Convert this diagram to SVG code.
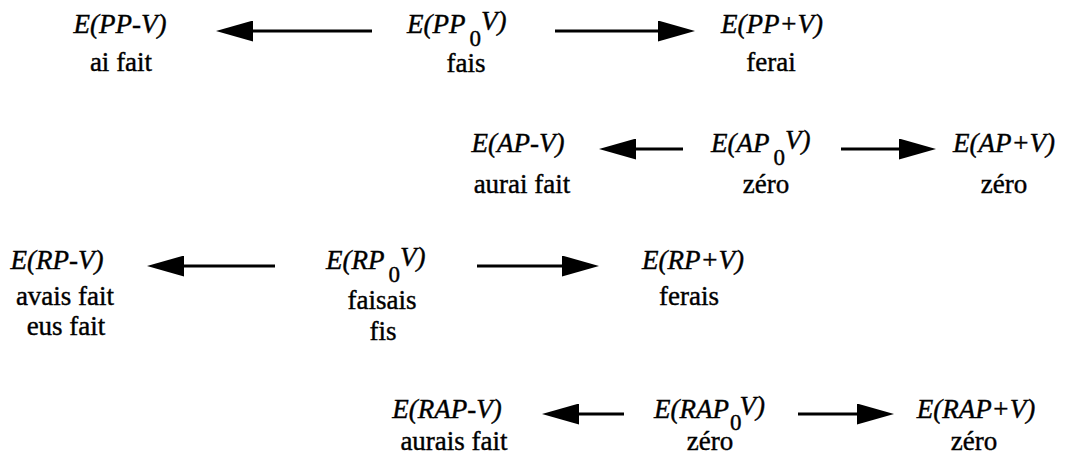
<svg xmlns="http://www.w3.org/2000/svg" width="1065" height="455" viewBox="0 0 1065 455">
  <style>
    text { font-size: 27px; fill: #000; stroke: #000; stroke-width: 0.4px; }
    .c { text-anchor: middle; }
    .term { font-style: italic; }
    .sub { font-style: normal; font-size: 23px; }
    .arrow { stroke: #000; stroke-width: 3.2; fill: none; }
  </style>
  <defs>
    <marker id="head" viewBox="0 0 37 21" refX="0" refY="10.5" markerWidth="37" markerHeight="21" markerUnits="userSpaceOnUse" orient="auto">
      <polygon points="0,0 37,10.5 0,21" fill="#000"/>
    </marker>
  </defs>
  <rect width="1065" height="455" fill="#fff"/>

  <g id="connectors">
    <line class="arrow" x1="372" y1="31" x2="253" y2="31" marker-end="url(#head)"/>
    <line class="arrow" x1="555" y1="31" x2="658" y2="31" marker-end="url(#head)"/>
    <line class="arrow" x1="683" y1="149" x2="636" y2="149" marker-end="url(#head)"/>
    <line class="arrow" x1="841" y1="149" x2="899" y2="149" marker-end="url(#head)"/>
    <line class="arrow" x1="275" y1="266" x2="184" y2="266" marker-end="url(#head)"/>
    <line class="arrow" x1="477" y1="266" x2="562" y2="266" marker-end="url(#head)"/>
    <line class="arrow" x1="624" y1="414" x2="579" y2="414" marker-end="url(#head)"/>
    <line class="arrow" x1="798" y1="414" x2="857" y2="414" marker-end="url(#head)"/>
  </g>

  <g id="labels" font-family="Liberation Serif, Times New Roman, serif">
    <!-- PP row -->
    <g id="pp-minus">
      <text class="term c" x="120" y="33">E(PP-V)</text>
      <text class="c" x="121" y="71">ai fait</text>
    </g>
    <g id="pp-zero">
      <text class="term" x="407" y="33">E(PP<tspan class="sub" dx="4" dy="13">0</tspan><tspan dy="-16">V)</tspan></text>
      <text class="c" x="466" y="72">fais</text>
    </g>
    <g id="pp-plus">
      <text class="term c" x="772" y="33">E(PP+V)</text>
      <text class="c" x="771" y="71">ferai</text>
    </g>

    <!-- AP row -->
    <g id="ap-minus">
      <text class="term c" x="518" y="152">E(AP-V)</text>
      <text class="c" x="522" y="193">aurai fait</text>
    </g>
    <g id="ap-zero">
      <text class="term" x="711" y="152">E(AP<tspan class="sub" dx="4" dy="13">0</tspan><tspan dy="-16">V)</tspan></text>
      <text class="c" x="766" y="193">zéro</text>
    </g>
    <g id="ap-plus">
      <text class="term c" x="1004" y="152">E(AP+V)</text>
      <text class="c" x="1004" y="193">zéro</text>
    </g>

    <!-- RP row -->
    <g id="rp-minus">
      <text class="term c" x="57" y="269">E(RP-V)</text>
      <text class="c" x="65" y="305">avais fait</text>
      <text class="c" x="66" y="335">eus fait</text>
    </g>
    <g id="rp-zero">
      <text class="term" x="326" y="269">E(RP<tspan class="sub" dx="4" dy="13">0</tspan><tspan dy="-16">V)</tspan></text>
      <text class="c" x="382" y="309">faisais</text>
      <text class="c" x="383" y="340">fis</text>
    </g>
    <g id="rp-plus">
      <text class="term c" x="693" y="269">E(RP+V)</text>
      <text class="c" x="689" y="305">ferais</text>
    </g>

    <!-- RAP row -->
    <g id="rap-minus">
      <text class="term c" x="447" y="418">E(RAP-V)</text>
      <text class="c" x="454" y="450">aurais fait</text>
    </g>
    <g id="rap-zero">
      <text class="term" x="654" y="418">E(RAP<tspan class="sub" dx="1" dy="12">0</tspan><tspan dx="-2" dy="-15">V)</tspan></text>
      <text class="c" x="710" y="450">zéro</text>
    </g>
    <g id="rap-plus">
      <text class="term c" x="976" y="418">E(RAP+V)</text>
      <text class="c" x="974" y="450">zéro</text>
    </g>
  </g>
</svg>
